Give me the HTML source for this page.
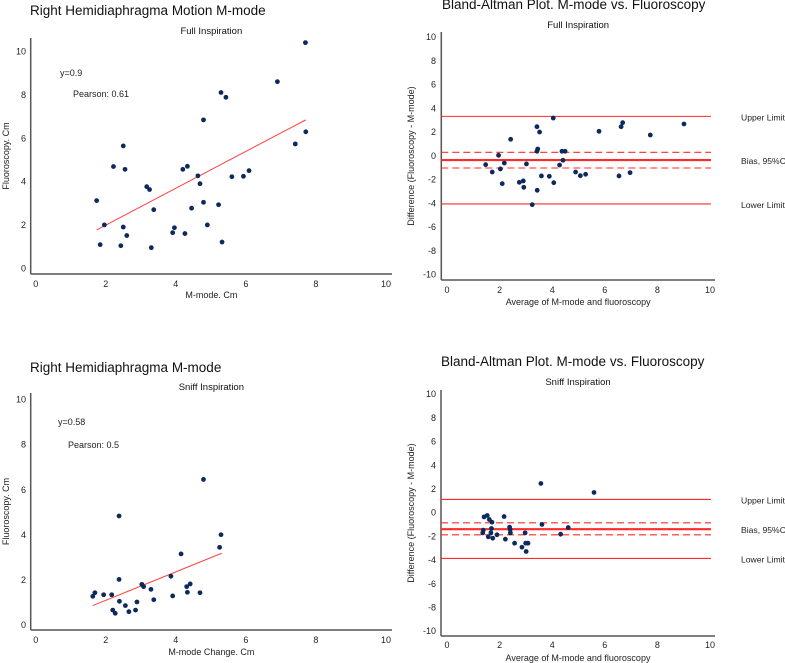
<!DOCTYPE html>
<html><head><meta charset="utf-8">
<style>
html,body{margin:0;padding:0;background:#fff;}
svg{display:block;font-family:"Liberation Sans",Arial,sans-serif;}
</style></head>
<body>
<svg id="c" width="785" height="663" viewBox="0 0 785 663"></svg>
<script>
// Panel 1: Full inspiration scatter
const fullMmode = [7.70,6.90,5.29,5.43,4.79,7.71,7.41,2.50,2.22,2.55,4.20,4.33,4.63,5.60,5.93,6.09,4.69,3.17,3.25,1.74,4.79,5.22,3.37,4.45,1.96,2.50,4.90,3.96,3.91,4.26,2.60,1.84,2.43,3.30,5.32];
const fullFluoro = [10.4,8.6,8.1,7.88,6.84,6.29,5.73,5.64,4.69,4.56,4.56,4.70,4.26,4.22,4.24,4.50,3.90,3.76,3.63,3.12,3.04,2.93,2.70,2.77,2.00,1.90,2.00,1.87,1.64,1.60,1.51,1.09,1.04,0.95,1.21];
const fullFitX = [1.74,7.71];
const fullFitY = [1.77,6.84];
// Panel 2: Full inspiration Bland-Altman
const fullAvg = [4.04,6.68,6.62,9.01,3.42,3.52,5.78,7.73,2.42,3.45,3.42,4.37,4.49,1.96,4.41,2.18,1.47,3.02,4.28,2.03,1.72,4.89,3.59,3.89,5.07,5.27,6.54,6.96,2.10,2.75,2.90,4.06,2.92,3.43,3.24];
const fullDiff = [3.17,2.78,2.44,2.67,2.44,1.99,2.05,1.74,1.38,0.56,0.37,0.37,0.37,0.03,-0.39,-0.62,-0.76,-0.70,-0.79,-1.12,-1.38,-1.38,-1.71,-1.74,-1.69,-1.57,-1.71,-1.43,-2.36,-2.25,-2.13,-2.28,-2.67,-2.92,-4.13];
const fullLimits = [3.31,0.28,-0.37,-1.04,-4.07]; // upper, ciHigh, bias, ciLow, lower
// Panel 3: Sniff scatter
const sniffMmode = [4.79,2.38,5.29,5.25,4.15,2.38,3.86,3.03,3.08,3.29,4.31,4.41,1.69,1.63,1.94,2.17,3.91,4.33,4.69,2.39,2.89,3.37,2.56,2.20,2.85,2.27,2.66];
const sniffFluoro = [6.45,4.83,4.00,3.44,3.15,2.02,2.16,1.80,1.70,1.58,1.70,1.82,1.43,1.27,1.34,1.34,1.29,1.45,1.43,1.05,1.02,1.12,0.86,0.66,0.66,0.52,0.59];
const sniffFitX = [1.63,5.31];
const sniffFitY = [0.86,3.18];
// Panel 4: Sniff Bland-Altman
const sniffAvg = [3.57,5.59,1.41,1.53,1.61,1.71,2.17,3.61,4.61,4.32,1.36,1.38,1.69,1.67,1.57,1.74,1.90,2.22,2.38,2.40,2.41,2.57,2.97,2.99,3.08,2.85,3.01];
const sniffDiff = [2.45,1.69,-0.37,-0.25,-0.59,-0.82,-0.34,-1.01,-1.27,-1.83,-1.72,-1.49,-1.35,-1.72,-2.05,-2.17,-1.88,-2.25,-1.24,-1.43,-1.72,-2.59,-1.72,-2.59,-2.59,-2.93,-3.29];
const sniffLimits = [1.10,-0.87,-1.41,-1.88,-3.88];
const xTicks = [0,2,4,6,8,10];
const yTicksScatter = [0,2,4,6,8,10];
const yTicksBA = [10,8,6,4,2,0,-2,-4,-6,-8,-10];

const NS = "http://www.w3.org/2000/svg";
const svg = document.getElementById('c');
function mk(tag, attrs, parent, text){
  const e = document.createElementNS(NS, tag);
  for (const k in attrs) e.setAttribute(k, attrs[k]);
  if (text !== undefined) e.textContent = text;
  (parent || svg).appendChild(e);
  return e;
}
function panel(cfg){
  const g = mk('g', {});
  
  
  const sx = v => cfg.x0 + (cfg.x10 - cfg.x0) * v / 10;
  const sy = v => cfg.yBot + (cfg.yTop - cfg.yBot) * (v - cfg.ymin) / (cfg.ymax - cfg.ymin);
  let t = mk('text', {x: cfg.titleX, y: cfg.titleY, 'font-size': 13.5, fill: '#111'}, g, cfg.title);
  
  
  t = mk('text', {x: (cfg.spineL + cfg.spineR) / 2, y: cfg.subY, 'font-size': 9.5, 'text-anchor': 'middle', fill: '#111'}, g, cfg.sub);
  
  
  let s = mk('line', {x1: cfg.spineL, y1: cfg.spineT, x2: cfg.spineL, y2: cfg.spineB, stroke: '#555', 'stroke-width': 1.5}, g);
  
  
  s = mk('line', {x1: cfg.spineL, y1: cfg.spineB, x2: cfg.spineR, y2: cfg.spineB, stroke: '#555', 'stroke-width': 1.5}, g);
  
  
  xTicks.forEach(v => {
    const e = mk('text', {x: sx(v), y: cfg.xTickY, 'font-size': 9, 'text-anchor': 'middle', fill: '#222'}, g, String(v));
    
    
  });
  cfg.yTicks.forEach(v => {
    const e = mk('text', {x: cfg.yTickX, y: sy(v) + 3.2, 'font-size': 9, 'text-anchor': 'end', fill: '#222'}, g, String(v));
    
    
  });
  t = mk('text', {x: (cfg.spineL + cfg.spineR) / 2, y: cfg.xLabY, 'font-size': 9, 'text-anchor': 'middle', fill: '#222'}, g, cfg.xLab);
  
  
  const yc = (cfg.spineT + cfg.spineB) / 2;
  t = mk('text', {x: cfg.yLabX, y: yc, 'font-size': 9, 'text-anchor': 'middle', fill: '#222', transform: 'rotate(-90 ' + cfg.yLabX + ' ' + yc + ')'}, g, cfg.yLab);
  
  
  if (cfg.limits) {
    const names = ['upper-limit-line','ci-high-line','bias-line','ci-low-line','lower-limit-line'];
    cfg.limits.forEach((v, i) => {
      const a = {x1: cfg.spineL, x2: cfg.spineR - 4, y1: sy(v), y2: sy(v), stroke: '#ff2a2a', 'stroke-width': i === 2 ? 2.2 : 1.1};
      if (i === 1 || i === 3) a['stroke-dasharray'] = '7,4';
      const l = mk('line', a, g);
      
      
    });
    const labs = [['Upper Limit', cfg.limits[0]], ['Bias, 95%CI', cfg.limits[2]], ['Lower Limit', cfg.limits[4]]];
    labs.forEach(([txt, v]) => {
      const e = mk('text', {x: 741, y: sy(v) + 4, 'font-size': 8.6, fill: '#222'}, g, txt);
      
      
    });
  }
  if (cfg.fitX) {
    const l = mk('line', {x1: sx(cfg.fitX[0]), y1: sy(cfg.fitY[0]), x2: sx(cfg.fitX[1]), y2: sy(cfg.fitY[1]), stroke: '#ff4040', 'stroke-width': 1}, g);
    
    
  }
  if (cfg.notes) {
    cfg.notes.forEach(n => {
      const e = mk('text', {x: n[0], y: n[1], 'font-size': 9, fill: '#222'}, g, n[2]);
      
      
    });
  }
  cfg.xs.forEach((v, i) => {
    const c = mk('circle', {cx: sx(v), cy: sy(cfg.ys[i]), r: 2.4, fill: '#0d2a5c'}, g);
    
    
  });
}
panel({name:'full-inspiration-scatter', title:'Right Hemidiaphragma Motion M-mode', titleX:30, titleY:15, sub:'Full Inspiration', subY:34,
  x0:35.7, x10:386, ymin:0, ymax:10, yBot:268.3, yTop:51.3, spineL:30.7, spineR:392, spineT:38, spineB:274,
  xTickY:287, yTickX:26, yTicks:yTicksScatter, xLab:'M-mode. Cm', xLabY:298, yLab:'Fluoroscopy. Cm', yLabX:9,
  fitX:fullFitX, fitY:fullFitY, notes:[[60,76,'y=0.9'],[73,97,'Pearson: 0.61']], xs:fullMmode, ys:fullFluoro});
panel({name:'full-inspiration-bland-altman', title:'Bland-Altman Plot. M-mode vs. Fluoroscopy', titleX:442, titleY:9, sub:'Full Inspiration', subY:28,
  x0:447, x10:710, ymin:-10, ymax:10, yBot:274.3, yTop:37, spineL:441.3, spineR:715, spineT:32, spineB:280,
  xTickY:293, yTickX:436, yTicks:yTicksBA, xLab:'Average of M-mode and fluoroscopy', xLabY:305, yLab:'Difference (Fluoroscopy - M-mode)', yLabX:414,
  limits:fullLimits, xs:fullAvg, ys:fullDiff});
panel({name:'sniff-inspiration-scatter', title:'Right Hemidiaphragma M-mode', titleX:30, titleY:372, sub:'Sniff Inspiration', subY:390,
  x0:35.7, x10:386, ymin:0, ymax:10, yBot:625, yTop:399.3, spineL:30.7, spineR:392, spineT:393, spineB:630,
  xTickY:643, yTickX:26, yTicks:yTicksScatter, xLab:'M-mode Change. Cm', xLabY:655, yLab:'Fluoroscopy. Cm', yLabX:9,
  fitX:sniffFitX, fitY:sniffFitY, notes:[[58,425,'y=0.58'],[68,448,'Pearson: 0.5']], xs:sniffMmode, ys:sniffFluoro});
panel({name:'sniff-inspiration-bland-altman', title:'Bland-Altman Plot. M-mode vs. Fluoroscopy', titleX:441, titleY:366, sub:'Sniff Inspiration', subY:385,
  x0:447, x10:710, ymin:-10, ymax:10, yBot:631, yTop:394, spineL:441, spineR:715, spineT:390, spineB:636,
  xTickY:648, yTickX:436, yTicks:yTicksBA, xLab:'Average of M-mode and fluoroscopy', xLabY:661, yLab:'Difference (Fluoroscopy - M-mode)', yLabX:414,
  limits:sniffLimits, xs:sniffAvg, ys:sniffDiff});
</script>
</body></html>
